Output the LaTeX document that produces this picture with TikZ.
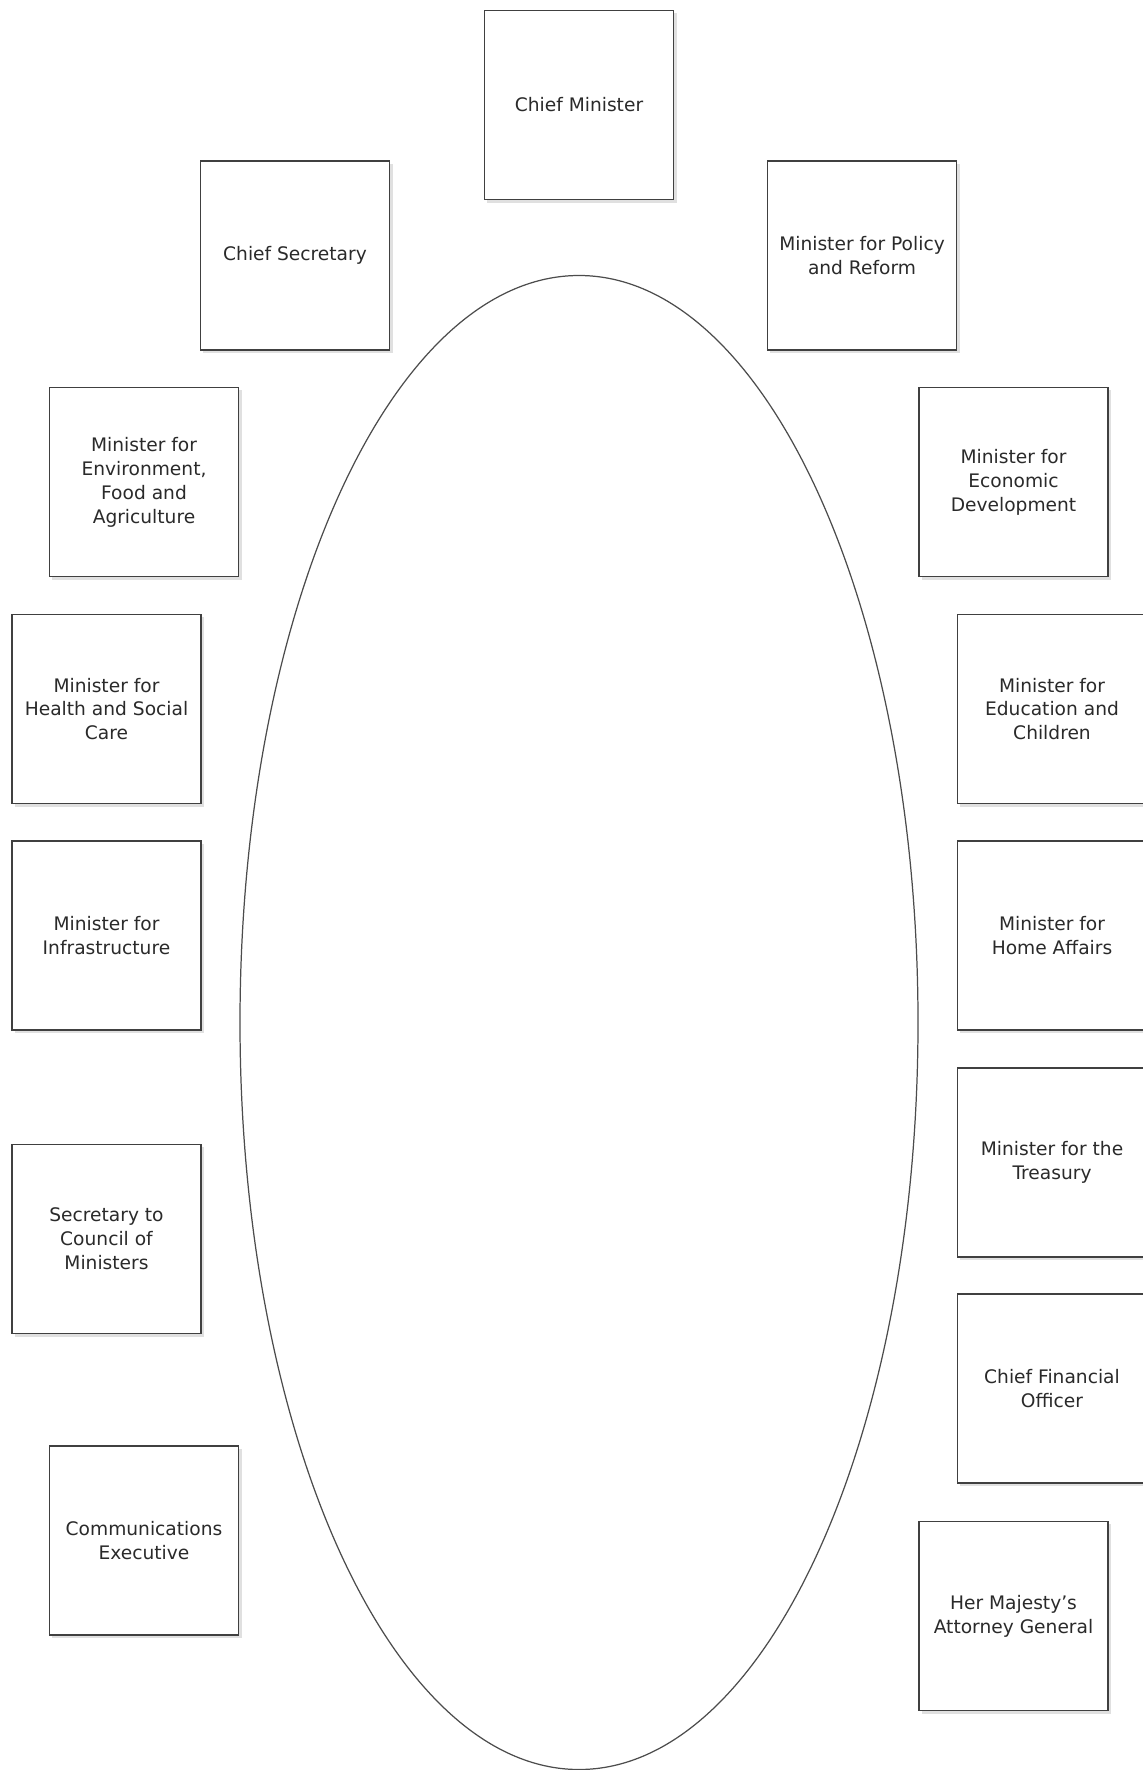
\documentclass[tikz,border=0pt]{standalone}
\usepackage{fontspec}
\setmainfont{DejaVu Sans}
\usetikzlibrary{shadows}
\definecolor{boxline}{HTML}{404040}
\definecolor{txt}{HTML}{2A2A2A}
\tikzset{
  member/.style={draw=boxline, line width=0.5pt, fill=white, minimum width=1.89cm, minimum height=1.89cm,
    inner sep=0pt, align=center, text=txt, font=\fontsize{5.3}{6.8}\selectfont,
    drop shadow={shadow xshift=0.03cm, shadow yshift=-0.03cm, fill=black!12, opacity=1}},
  table/.style={draw=black!70, line width=0.35pt}
}
\begin{document}
\begin{tikzpicture}[x=0.01cm, y=-0.01cm]
			\useasboundingbox (0,0) rectangle (1142,1770);
			\draw[table] (579,1022.5) ellipse [x radius=339, y radius=747];
			\node[member] (cm) at (579,105) {Chief Minister};
			\node[member] (cs) at (295,255.5) {Chief Secretary};
			\node[member] (pr) at (862,255.5) {Minister for Policy\\and Reform};
			\node[member] (efa) at (144,482) {Minister for\\Environment,\\Food and\\Agriculture};
			\node[member] (ed) at (1013.5,482) {Minister for\\Economic\\Development};
			\node[member] (hsc) at (106.5,709) {Minister for\\Health and Social\\Care};
			\node[member] (ec) at (1052,709) {Minister for\\Education and\\Children};
			\node[member] (inf) at (106.5,935.5) {Minister for\\Infrastructure};
			\node[member] (ha) at (1052,935.5) {Minister for\\Home Affairs};
			\node[member] (tr) at (1052,1162.5) {Minister for the\\Treasury};
			\node[member] (scm) at (106.5,1239) {Secretary to\\Council of\\Ministers};
			\node[member] (cfo) at (1052,1388.5) {Chief Financial\\Officer};
			\node[member] (ce) at (144,1540.5) {Communications\\Executive};
			\node[member] (ag) at (1013.5,1616) {Her Majesty's\\Attorney General};
		\end{tikzpicture}
\end{document}
